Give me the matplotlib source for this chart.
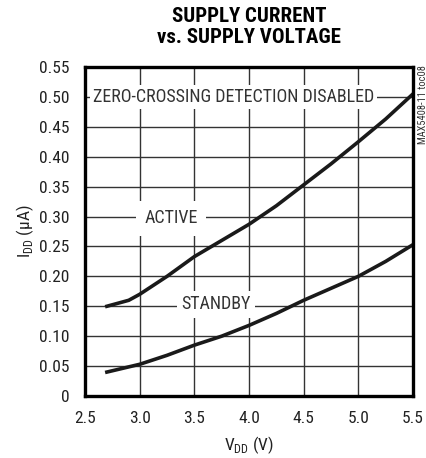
import matplotlib
matplotlib.use("Agg")
import matplotlib.pyplot as plt
from matplotlib import font_manager as fm

# Data
active_v = [2.7, 2.9, 3.0, 3.25, 3.5, 3.75, 4.0, 4.25, 4.5, 4.75, 5.0, 5.25, 5.5]
active_i = [0.150, 0.160, 0.170, 0.200, 0.233, 0.260, 0.287, 0.318, 0.353, 0.388, 0.425, 0.463, 0.505]
standby_v = [2.7, 3.0, 3.25, 3.5, 3.75, 4.0, 4.25, 4.5, 4.75, 5.0, 5.25, 5.5]
standby_i = [0.040, 0.053, 0.068, 0.085, 0.100, 0.118, 0.138, 0.160, 0.180, 0.200, 0.225, 0.253]
xticks = [2.5, 3.0, 3.5, 4.0, 4.5, 5.0, 5.5]
xtick_labels = ["2.5", "3.0", "3.5", "4.0", "4.5", "5.0", "5.5"]
yticks = [0, 0.05, 0.10, 0.15, 0.20, 0.25, 0.30, 0.35, 0.40, 0.45, 0.50, 0.55]
ytick_labels = ["0", "0.05", "0.10", "0.15", "0.20", "0.25", "0.30", "0.35", "0.40", "0.45", "0.50", "0.55"]

names = {f.name for f in fm.fontManager.ttflist}
cands = ["Roboto Condensed", "Sofia Sans Condensed", "Barlow Semi Condensed", "Barlow Condensed", "Liberation Sans Narrow"]
fams = [c for c in cands if c in names][:1] + ["DejaVu Sans"]
plt.rcParams['font.family'] = fams
plt.rcParams['mathtext.fontset'] = 'custom'
plt.rcParams['mathtext.rm'] = fams[0]

fig = plt.figure(figsize=(4.27, 4.58), dpi=100)
ax = fig.add_axes([85/427, 1-396/458, 328/427, 329/458])
ax.set_xlim(2.5, 5.5)
ax.set_ylim(0, 0.55)
ax.set_xticks(xticks)
ax.set_xticklabels(xtick_labels)
ax.set_yticks(yticks)
ax.set_yticklabels(ytick_labels)
ax.tick_params(length=0, labelsize=12.5, colors='#222222', pad=11)
ax.grid(True, color='#333333', linewidth=1.0, zorder=1)
for s in ax.spines.values():
    s.set_linewidth(2.4)
    s.set_color('black')
    s.set_zorder(5)

ax.plot(active_v, active_i, color='#1a1a1a', lw=2.6, zorder=3)
ax.plot(standby_v, standby_i, color='#1a1a1a', lw=2.6, zorder=3)

ax.text(3.86, 0.50, "ZERO-CROSSING DETECTION DISABLED", ha='center', va='center',
        fontsize=13, color='#333333', bbox=dict(facecolor='white', edgecolor='none', pad=2), zorder=4)
ax.text(3.29, 0.297, "ACTIVE", ha='center', va='center', fontsize=13, color='#333333',
        bbox=dict(facecolor='white', edgecolor='none', pad=6), zorder=4)
ax.text(3.70, 0.153, "STANDBY", ha='center', va='center', fontsize=13, color='#333333',
        bbox=dict(facecolor='white', edgecolor='none', pad=3), zorder=4)

ax.set_xlabel("V$_{\\mathregular{DD}}$ (V)", fontsize=12.5, color='#222222', labelpad=6)
ax.set_ylabel("I$_{\\mathregular{DD}}$ (\u00b5A)", fontsize=12.5, color='#222222', labelpad=2)
fig.text(249/427, 1-27/458, "SUPPLY CURRENT\nvs. SUPPLY VOLTAGE", ha='center', va='center',
         fontsize=15, fontweight='heavy', linespacing=1.1, color='black')
fig.text(423/427, 1-65/458, "MAX5408-11 toc08", rotation=90, ha='center', va='top',
         fontsize=7.5, color='#333333')
fig.savefig("out.png", dpi=100)
